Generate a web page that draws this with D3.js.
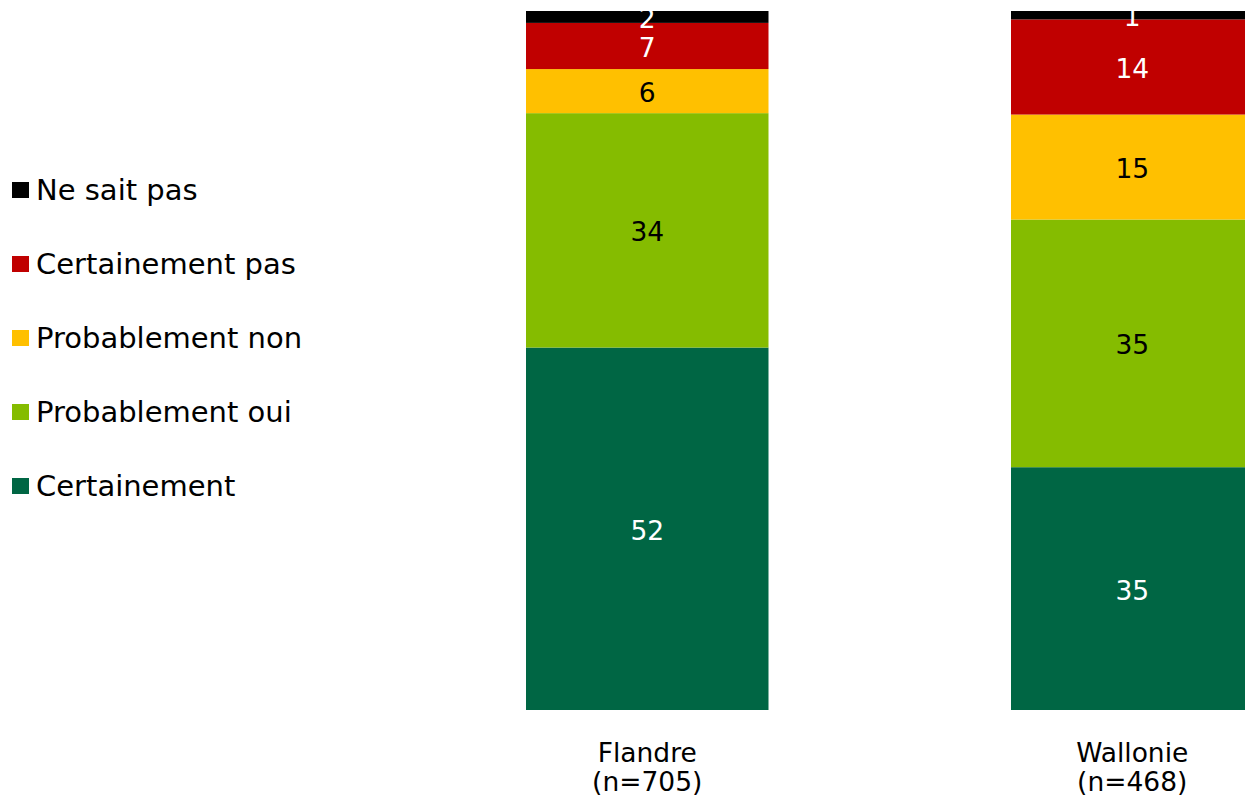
<!DOCTYPE html>
<html>
<head>
<meta charset="utf-8">
<script src="https://cdn.jsdelivr.net/npm/d3@7"></script>
<style>
  html, body { margin: 0; padding: 0; background: #ffffff; }
  svg { display: block; font-family: "DejaVu Sans", Verdana, sans-serif; }
</style>
</head>
<body>
<svg id="chart" width="1245" height="800"></svg>
<script>
// ---- Data ----
const categories = ["Flandre", "Wallonie"];
const sampleSizes = [705, 468];
// series listed bottom to top of each stack
const seriesNames = ["Certainement", "Probablement oui", "Probablement non", "Certainement pas", "Ne sait pas"];
const seriesColors = ["#006644", "#85BC00", "#FFC000", "#C00000", "#000000"];
const labelColors = ["#ffffff", "#000000", "#000000", "#ffffff", "#ffffff"];
const certainement    = [51.8, 34.7];
const probablementOui = [33.5, 35.4];
const probablementNon = [6.3, 15.0];
const certainementPas = [6.6, 13.6];
const neSaitPas       = [1.7, 1.2];
// legend listed top to bottom
const legendOrder = ["Ne sait pas", "Certainement pas", "Probablement non", "Probablement oui", "Certainement"];

const seriesValues = [certainement, probablementOui, probablementNon, certainementPas, neSaitPas];
const table = categories.map((c, i) => {
  const row = { category: c, n: sampleSizes[i] };
  seriesNames.forEach((s, k) => row[s] = seriesValues[k][i]);
  return row;
});

// ---- Layout ----
const svg = d3.select("#chart");
const x = d3.scaleBand().domain(categories).range([283.5, 1496]).paddingInner(0.5).paddingOuter(0.5);
const y = d3.scaleLinear().domain([0, 100]).range([710, 10.3]);
const color = d3.scaleOrdinal().domain(seriesNames).range(seriesColors);
const txtColor = d3.scaleOrdinal().domain(seriesNames).range(labelColors);

const stack = d3.stack().keys(seriesNames);
const stacked = stack(table);

const layers = svg.append("g").selectAll("g")
  .data(stacked).join("g")
  .attr("fill", d => color(d.key));

layers.selectAll("rect")
  .data(d => d.map(p => ({ key: d.key, p })))
  .join("rect")
  .attr("x", d => x(d.p.data.category))
  .attr("width", x.bandwidth())
  .attr("y", d => y(d.p[1]))
  .attr("height", d => y(d.p[0]) - y(d.p[1]));

// value labels
const labels = svg.append("g").attr("font-size", 26.5).attr("text-anchor", "middle");
stacked.forEach(layer => {
  layer.forEach(p => {
    labels.append("text")
      .attr("x", x(p.data.category) + x.bandwidth() / 2)
      .attr("y", (y(p[0]) + y(p[1])) / 2)
      .attr("dy", "0.42em")
      .attr("fill", txtColor(layer.key))
      .text(Math.round(p[1] - p[0]));
  });
});

// category labels
const cat = svg.append("g").attr("font-size", 26.5).attr("text-anchor", "middle").attr("fill", "#000");
table.forEach(d => {
  const t = cat.append("text").attr("x", x(d.category) + x.bandwidth() / 2).attr("y", 762);
  t.append("tspan").attr("x", x(d.category) + x.bandwidth() / 2).text(d.category);
  t.append("tspan").attr("x", x(d.category) + x.bandwidth() / 2).attr("dy", 29).text("(n=" + d.n + ")");
});

// legend
const legendY = d3.scalePoint().domain(legendOrder).range([190, 486]);
const legend = svg.append("g");
legendOrder.forEach(name => {
  const cy = legendY(name);
  legend.append("rect")
    .attr("x", 12).attr("y", cy - 8).attr("width", 17).attr("height", 16)
    .attr("fill", color(name));
  legend.append("text")
    .attr("x", 36).attr("y", cy).attr("dy", "0.36em")
    .attr("font-size", 29).attr("fill", "#000")
    .text(name);
});
</script>
</body>
</html>
